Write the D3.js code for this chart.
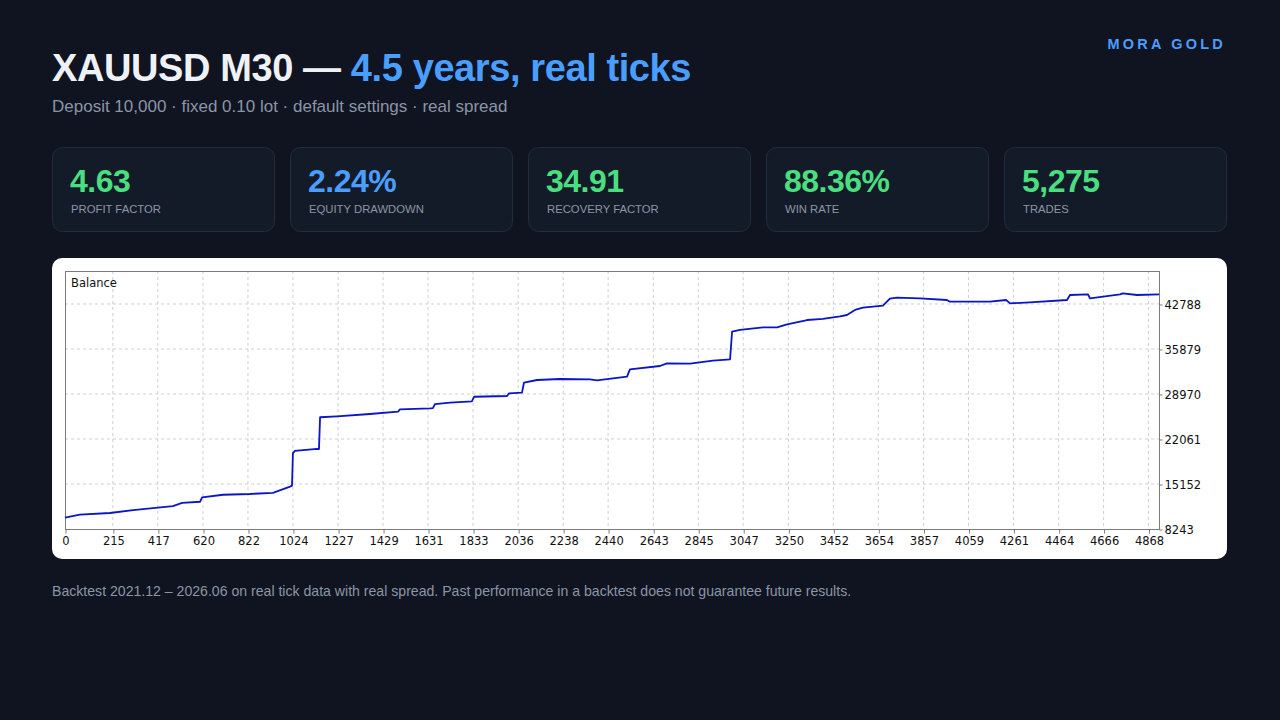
<!DOCTYPE html>
<html>
<head>
<meta charset="utf-8">
<script src="https://cdn.jsdelivr.net/npm/d3@7"></script>
<style>
  html, body { margin: 0; padding: 0; background: #0f1420; }
  svg { display: block; }
</style>
</head>
<body>
<svg id="chart"></svg>
<script>
const tradeIndex = [0, 67, 202, 306, 485, 526, 607, 616, 710, 831, 934, 1011, 1020, 1024, 1033, 1132, 1141, 1146, 1222, 1370, 1496, 1505, 1640, 1653, 1662, 1730, 1828, 1838, 1986, 1995, 2053, 2062, 2121, 2224, 2359, 2390, 2525, 2538, 2673, 2704, 2808, 2911, 2988, 2997, 3033, 3136, 3199, 3244, 3334, 3405, 3482, 3513, 3549, 3585, 3675, 3706, 3737, 3841, 3962, 3976, 4156, 4228, 4246, 4335, 4502, 4515, 4596, 4605, 4740, 4753, 4816, 4915];
const balance = [10000, 10450, 10700, 11150, 11770, 12250, 12430, 13100, 13500, 13620, 13800, 14750, 14900, 19900, 20250, 20550, 20500, 25400, 25550, 25900, 26250, 26620, 26770, 26800, 27430, 27630, 27840, 28550, 28660, 29070, 29170, 30700, 31120, 31270, 31220, 31070, 31630, 32760, 33270, 33680, 33630, 34090, 34300, 38530, 38800, 39210, 39210, 39670, 40330, 40490, 40900, 41100, 41870, 42220, 42530, 43600, 43760, 43660, 43400, 43140, 43140, 43400, 42890, 43040, 43400, 44170, 44280, 43660, 44280, 44430, 44170, 44280];

const xTicks = [0, 215, 417, 620, 822, 1024, 1227, 1429, 1631, 1833, 2036, 2238, 2440, 2643, 2845, 3047, 3250, 3452, 3654, 3857, 4059, 4261, 4464, 4666, 4868];
const yTicks = [8243, 15152, 22061, 28970, 35879, 42788];

const statValues = ["4.63", "2.24%", "34.91", "88.36%", "5,275"];
const statLabels = ["PROFIT FACTOR", "EQUITY DRAWDOWN", "RECOVERY FACTOR", "WIN RATE", "TRADES"];
const statColors = ["#4ade80", "#4a9eff", "#4ade80", "#4ade80", "#4ade80"];

const width = 1280;
const height = 720;
const sans = "'Liberation Sans', Arial, Helvetica, sans-serif";

const svg = d3.select("#chart").attr("width", width).attr("height", height);

svg.append("rect").attr("width", width).attr("height", height).attr("fill", "#0f1420");

// header
const title = svg.append("text")
  .attr("x", 52).attr("y", 81)
  .attr("font-family", sans).attr("font-size", 38).attr("font-weight", 700)
  .attr("letter-spacing", -0.4);
title.append("tspan").attr("fill", "#eef1f6").text("XAUUSD M30 — ");
title.append("tspan").attr("fill", "#4a9eff").text("4.5 years, real ticks");

svg.append("text")
  .attr("x", 52).attr("y", 112)
  .attr("font-family", sans).attr("font-size", 17)
  .attr("fill", "#8b95a7")
  .text("Deposit 10,000 · fixed 0.10 lot · default settings · real spread");

svg.append("text")
  .attr("x", 1226).attr("y", 49)
  .attr("text-anchor", "end")
  .attr("font-family", sans).attr("font-size", 14.5).attr("font-weight", 700)
  .attr("letter-spacing", 3.2)
  .attr("fill", "#4a9eff")
  .text("MORA GOLD");

// stat cards
const cardX = d3.scaleBand()
  .domain(statLabels)
  .range([52, 1227 + 15])
  .paddingInner(0)
  .paddingOuter(0);

const cards = svg.selectAll("g.card")
  .data(statLabels)
  .join("g")
  .attr("class", "card")
  .attr("transform", (d) => `translate(${cardX(d)},147)`);

cards.append("rect")
  .attr("x", 0.5).attr("y", 0.5)
  .attr("width", cardX.bandwidth() - 16).attr("height", 84)
  .attr("rx", 10)
  .attr("fill", "#141b28")
  .attr("stroke", "#222d3f");

cards.append("text")
  .attr("x", 18).attr("y", 45)
  .attr("font-family", sans).attr("font-size", 32).attr("font-weight", 700)
  .attr("letter-spacing", -0.5)
  .attr("fill", (_, i) => statColors[i])
  .text((_, i) => statValues[i]);

cards.append("text")
  .attr("x", 19).attr("y", 66)
  .attr("font-family", sans).attr("font-size", 11.3)
  .attr("fill", "#8b95a7")
  .text((d) => d);

// chart panel
svg.append("rect")
  .attr("x", 52).attr("y", 258)
  .attr("width", 1175).attr("height", 301)
  .attr("rx", 10)
  .attr("fill", "#ffffff");

const plot = { left: 65, right: 1159, top: 271, bottom: 529 };
const chartFont = "'DejaVu Sans', Tahoma, Verdana, sans-serif";

const xScale = d3.scaleLinear()
  .domain([0, 4915])
  .range([plot.left, plot.right]);

const yScale = d3.scaleLinear()
  .domain([8243, 47854])
  .range([plot.bottom, plot.top]);

// grid
svg.append("g")
  .selectAll("line")
  .data(xTicks.slice(1))
  .join("line")
  .attr("x1", (d) => xScale(d)).attr("x2", (d) => xScale(d))
  .attr("y1", plot.top).attr("y2", plot.bottom)
  .attr("stroke", "#cfcfcf").attr("stroke-dasharray", "3,3");

svg.append("g")
  .selectAll("line")
  .data(yTicks.slice(1))
  .join("line")
  .attr("x1", plot.left).attr("x2", plot.right)
  .attr("y1", (d) => yScale(d)).attr("y2", (d) => yScale(d))
  .attr("stroke", "#cfcfcf").attr("stroke-dasharray", "3,3");

// frame
svg.append("rect")
  .attr("x", plot.left + 0.5).attr("y", plot.top + 0.5)
  .attr("width", plot.right - plot.left).attr("height", plot.bottom - plot.top)
  .attr("fill", "none")
  .attr("stroke", "#7a7a7a");

// axes
const xAxis = svg.append("g")
  .attr("transform", `translate(0.5,${plot.bottom + 0.5})`)
  .call(d3.axisBottom(xScale).tickValues(xTicks).tickFormat(d3.format("d")).tickSize(4).tickSizeOuter(0));
xAxis.select(".domain").remove();
xAxis.selectAll("line").attr("stroke", "#7a7a7a");
xAxis.selectAll("text")
  .attr("y", 7)
  .attr("font-family", chartFont).attr("font-size", 11.5)
  .attr("fill", "#111");

const yAxis = svg.append("g")
  .attr("transform", `translate(${plot.right + 0.5},0.5)`)
  .call(d3.axisRight(yScale).tickValues(yTicks).tickFormat(d3.format("d")).tickSize(3).tickSizeOuter(0));
yAxis.select(".domain").remove();
yAxis.selectAll("line").attr("stroke", "#7a7a7a");
yAxis.selectAll("text")
  .attr("x", 5)
  .attr("font-family", chartFont).attr("font-size", 11.5)
  .attr("fill", "#111");

// balance line
const line = d3.line()
  .x((d) => xScale(d[0]))
  .y((d) => yScale(d[1]));

svg.append("path")
  .datum(tradeIndex.map((t, i) => [t, balance[i]]))
  .attr("d", line)
  .attr("fill", "none")
  .attr("stroke", "#0a14c8")
  .attr("stroke-width", 1.8)
  .attr("stroke-linejoin", "round");

svg.append("text")
  .attr("x", 71).attr("y", 287)
  .attr("font-family", chartFont).attr("font-size", 11.5)
  .attr("fill", "#111")
  .text("Balance");

// footer
svg.append("text")
  .attr("x", 52).attr("y", 596)
  .attr("font-family", sans).attr("font-size", 14.1)
  .attr("fill", "#8b95a7")
  .text("Backtest 2021.12 – 2026.06 on real tick data with real spread. Past performance in a backtest does not guarantee future results.");
</script>
</body>
</html>
